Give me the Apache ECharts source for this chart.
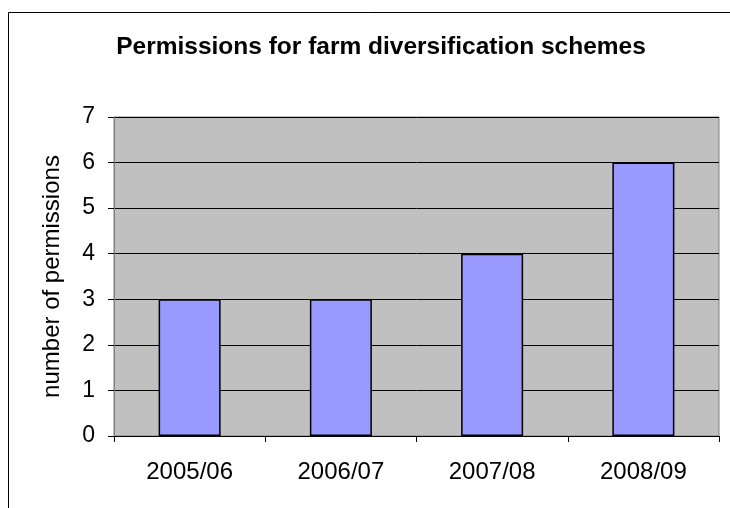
<!DOCTYPE html>
<html>
<head>
<meta charset="utf-8">
<script src="https://cdn.jsdelivr.net/npm/echarts@6/dist/echarts.min.js"></script>
<style>
  html, body { margin: 0; padding: 0; background: #fff; }
  #chart { width: 730px; height: 508px; }
</style>
</head>
<body>
<div id="chart"></div>
<script>
// Farm diversification permissions per financial year
const categories = ['2005/06', '2006/07', '2007/08', '2008/09'];
const permissions = [3, 3, 4, 6];
const yTicks = [0, 1, 2, 3, 4, 5, 6, 7];

const FONT = 'Liberation Sans, Arial, sans-serif';
const chart = echarts.init(document.getElementById('chart'), null, { renderer: 'canvas' });

const option = {
  backgroundColor: '#ffffff',
  animation: false,
  title: {
    text: 'Permissions for farm diversification schemes',
    left: 376,
    top: 30,
    textAlign: 'center',
    textStyle: { fontFamily: FONT, fontSize: 24.5, fontWeight: 'bold', color: '#000' }
  },
  graphic: [
    {
      // outer chart frame
      type: 'rect',
      shape: { x: 8.5, y: 12.5, width: 740, height: 520 },
      style: { fill: null, stroke: '#000', lineWidth: 1 },
      z: -1
    }
  ],
  grid: {
    left: 114, top: 117, right: 11, bottom: 72,
    show: true,
    backgroundColor: '#c0c0c0',
    borderColor: '#808080',
    borderWidth: 1
  },
  xAxis: {
    type: 'category',
    data: categories,
    axisLine: { show: true, lineStyle: { color: '#000', width: 1 } },
    axisTick: { show: true, length: 6, lineStyle: { color: '#000' } },
    axisLabel: { fontFamily: FONT, fontSize: 24, color: '#000', margin: 24 }
  },
  yAxis: {
    type: 'value',
    min: yTicks[0],
    max: yTicks[yTicks.length - 1],
    interval: 1,
    name: 'number of permissions',
    nameLocation: 'middle',
    nameGap: 50,
    nameTextStyle: { fontFamily: FONT, fontSize: 24, color: '#000' },
    axisLine: { show: true, lineStyle: { color: '#808080', width: 1 } },
    axisTick: { show: true, length: 6, lineStyle: { color: '#000' } },
    axisLabel: { fontFamily: FONT, fontSize: 23, color: '#000', margin: 19 },
    splitLine: { show: true, lineStyle: { color: '#000', width: 1 } }
  },
  series: [
    {
      type: 'bar',
      data: permissions,
      barWidth: '41%',
      itemStyle: { color: '#9999ff', borderColor: '#000', borderWidth: 1.5 }
    }
  ]
};

chart.setOption(option);
</script>
</body>
</html>
